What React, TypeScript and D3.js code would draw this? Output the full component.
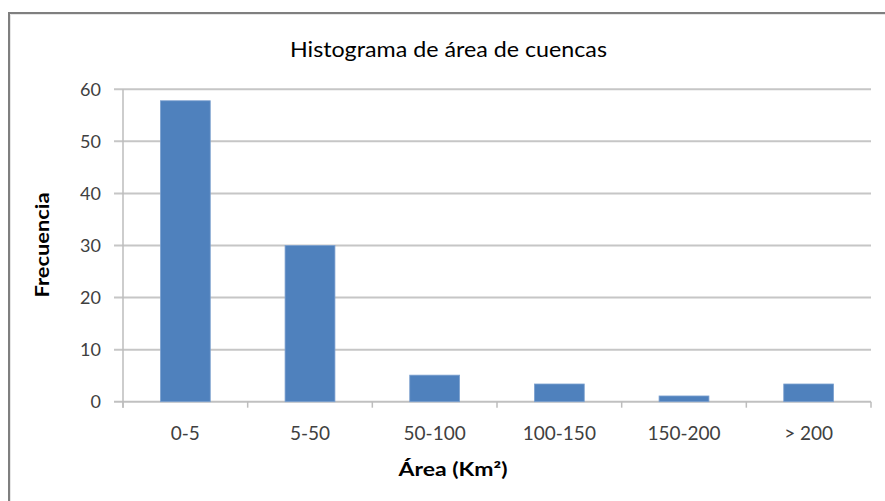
import React from "react";
import * as d3 from "d3";

const categories = ["0-5", "5-50", "50-100", "100-150", "150-200", "> 200"];
const frequencies = [57.8, 30, 5.1, 3.4, 1.1, 3.4];
const yTicks = [0, 10, 20, 30, 40, 50, 60];

const W = 885;
const H = 501;
const plot = { left: 123, right: 871, top: 89.3, bottom: 401.7 };
const FONT = "Lato, 'Open Sans', 'DejaVu Sans', sans-serif";

export default function App() {
  const x = d3
    .scaleBand<string>()
    .domain(categories)
    .range([plot.left, plot.right])
    .paddingInner(0.6)
    .paddingOuter(0.3);
  const step = (plot.right - plot.left) / categories.length;
  const y = d3.scaleLinear().domain([0, 60]).range([plot.bottom, plot.top]);

  return (
    <svg
      width={W}
      height={H}
      style={{ position: "absolute", left: 0, top: 0, background: "#fff" }}
      fontFamily={FONT}
    >
      <rect x={0} y={0} width={W} height={H} fill="#fff" />
      {/* outer frame */}
      <line x1={9} y1={13} x2={W + 5} y2={13} stroke="#7f7f7f" strokeWidth={2} />
      <line x1={9} y1={12} x2={9} y2={H + 5} stroke="#7f7f7f" strokeWidth={2} />
      <line x1={10.5} y1={14.5} x2={W + 5} y2={14.5} stroke="#e6e6e6" strokeWidth={1} />
      <line x1={10.5} y1={14.5} x2={10.5} y2={H + 5} stroke="#e6e6e6" strokeWidth={1} />

      <text
        x={448.5}
        y={57}
        textAnchor="middle"
        fontSize={22}
        fill="#000"
        textLength={317}
        lengthAdjust="spacingAndGlyphs"
      >
        Histograma de área de cuencas
      </text>

      {/* gridlines and y ticks */}
      {yTicks.map((t) => (
        <g key={t}>
          <line
            x1={plot.left - 9}
            x2={plot.right}
            y1={y(t)}
            y2={y(t)}
            stroke={t === 0 ? "#c0c0c0" : "#c6c6c6"}
            strokeWidth={2}
          />
          <text
            x={101}
            y={y(t) + 6.5}
            textAnchor="end"
            fontSize={18}
            fill="#404040"
          >
            {t}
          </text>
        </g>
      ))}

      {/* y axis line */}
      <line x1={plot.left} x2={plot.left} y1={plot.top} y2={plot.bottom + 6} stroke="#bdbdbd" strokeWidth={1.5} />

      {/* x tick marks */}
      {d3.range(categories.length + 1).map((i) => (
        <line
          key={i}
          x1={plot.left + i * step}
          x2={plot.left + i * step}
          y1={plot.bottom}
          y2={plot.bottom + 6}
          stroke="#bdbdbd"
          strokeWidth={1.5}
        />
      ))}

      {/* bars */}
      {categories.map((c, i) => {
        const v = frequencies[i];
        const bx = x(c)!;
        const bw = x.bandwidth();
        return (
          <g key={c}>
            <rect
              x={bx}
              y={y(v)}
              width={bw}
              height={plot.bottom - y(v)}
              fill="#4f81bd"
              stroke="#7ea2d0"
              strokeWidth={0.8}
            />
          </g>
        );
      })}

      {/* x labels */}
      {categories.map((c) => (
        <text
          key={c}
          x={x(c)! + x.bandwidth() / 2}
          y={440}
          textAnchor="middle"
          fontSize={19}
          fill="#404040"
        >
          {c}
        </text>
      ))}

      <text
        x={453}
        y={476}
        textAnchor="middle"
        fontSize={18}
        fontWeight="bold"
        fill="#000"
        textLength={109}
        lengthAdjust="spacingAndGlyphs"
      >
        Área (Km²)
      </text>

      <text
        transform={`translate(49, 245) rotate(-90)`}
        textAnchor="middle"
        fontSize={18}
        fontWeight="bold"
        fill="#000"
        textLength={105}
        lengthAdjust="spacingAndGlyphs"
      >
        Frecuencia
      </text>
    </svg>
  );
}
